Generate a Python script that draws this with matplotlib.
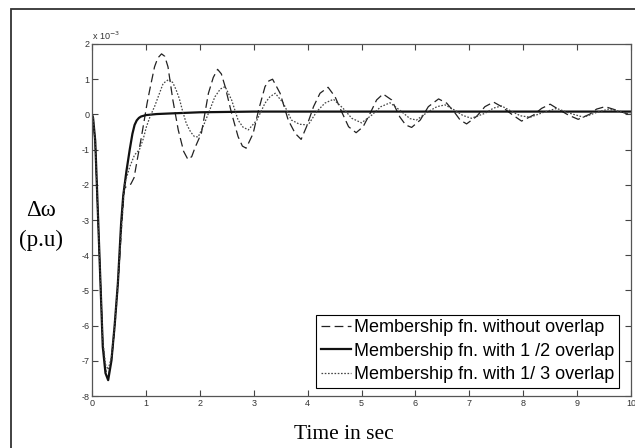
import matplotlib.pyplot as plt
from matplotlib.patches import Rectangle

plt.rcParams['axes.unicode_minus'] = False

# speed deviation (units of 1e-3 p.u.) against time in seconds
t_no_overlap = [0, 0.02, 0.06, 0.10, 0.20, 0.25, 0.30, 0.36, 0.42, 0.48, 0.54, 0.60, 0.66,
                0.72, 0.78, 0.85, 0.91, 0.97, 1.02, 1.07, 1.16, 1.22, 1.29, 1.35, 1.41, 1.50,
                1.60, 1.70, 1.78, 1.85, 1.91, 2.03, 2.16, 2.25, 2.33, 2.40, 2.47, 2.59, 2.71,
                2.79, 2.86, 2.99, 3.09, 3.21, 3.28, 3.35, 3.49, 3.64, 3.77, 3.88, 3.98, 4.11,
                4.23, 4.38, 4.51, 4.63, 4.76, 4.90, 5.03, 5.16, 5.28, 5.40, 5.56, 5.71, 5.82,
                5.93, 6.09, 6.24, 6.43, 6.58, 6.73, 6.83, 6.95, 7.14, 7.29, 7.45, 7.60, 7.79,
                7.97, 8.19, 8.34, 8.50, 8.68, 8.84, 9.02, 9.24, 9.36, 9.52, 9.73, 10.0]
dw_no_overlap = [0, -0.1, -0.8, -2.5, -6.5, -7.25, -7.45, -7.0, -6.1, -4.9, -3.4, -2.1, -2.02,
                 -1.98, -1.8, -1.2, -0.7, -0.16, 0.3, 0.69, 1.35, 1.6, 1.72, 1.65, 1.35, 0.41,
                 -0.44, -1.05, -1.28, -1.2, -0.95, -0.53, 0.6, 1.05, 1.28, 1.15, 0.79, 0.03, -0.63,
                 -0.9, -0.96, -0.54, 0.12, 0.79, 0.95, 1.0, 0.6, -0.16, -0.54, -0.71, -0.35, 0.22,
                 0.6, 0.77, 0.5, 0.08, -0.35, -0.52, -0.35, 0.03, 0.41, 0.58, 0.41, -0.07, -0.3,
                 -0.37, -0.16, 0.22, 0.44, 0.32, 0.05, -0.16, -0.27, -0.05, 0.22, 0.35, 0.22, 0.0,
                 -0.19, -0.02, 0.17, 0.29, 0.12, -0.02, -0.14, 0.01, 0.15, 0.22, 0.12, -0.02]

t_half = [0, 0.02, 0.06, 0.10, 0.15, 0.20, 0.25, 0.30, 0.36, 0.42, 0.48, 0.54, 0.58, 0.64,
          0.70, 0.75, 0.79, 0.83, 0.87, 0.91, 1.0, 1.2, 1.5, 2.0, 3.0, 4.0, 6.0, 8.0, 10.0]
dw_half = [0, -0.1, -0.75, -2.4, -4.5, -6.6, -7.35, -7.55, -7.0, -6.0, -4.8, -3.1, -2.3, -1.6,
           -1.0, -0.55, -0.3, -0.17, -0.1, -0.06, -0.02, 0.01, 0.03, 0.06, 0.08, 0.08, 0.08,
           0.08, 0.08]

t_third = [0, 0.02, 0.06, 0.10, 0.20, 0.25, 0.30, 0.36, 0.42, 0.48, 0.54, 0.60, 0.65, 0.70,
           0.79, 0.88, 0.95, 1.01, 1.08, 1.16, 1.24, 1.32, 1.43, 1.50, 1.56, 1.62, 1.68, 1.75,
           1.83, 1.90, 1.97, 2.06, 2.16, 2.28, 2.38, 2.47, 2.59, 2.71, 2.80, 2.90, 3.06, 3.21,
           3.30, 3.40, 3.55, 3.70, 3.85, 4.01, 4.17, 4.32, 4.48, 4.66, 4.82, 5.00, 5.19, 5.36,
           5.53, 5.71, 5.90, 6.02, 6.24, 6.40, 6.55, 6.73, 6.88, 7.04, 7.29, 7.45, 7.60, 7.79,
           7.95, 8.13, 8.38, 8.62, 8.87, 9.12, 9.35, 9.58, 9.80, 10.0]
dw_third = [0, -0.1, -0.8, -2.5, -6.4, -7.1, -7.25, -6.9, -6.0, -4.8, -3.3, -2.0, -1.75, -1.49,
            -1.15, -1.0, -0.7, -0.35, -0.05, 0.22, 0.55, 0.88, 1.0, 0.9, 0.7, 0.45, 0.1, -0.26,
            -0.5, -0.63, -0.64, -0.35, 0.03, 0.5, 0.72, 0.79, 0.41, -0.16, -0.36, -0.44, -0.16,
            0.32, 0.5, 0.6, 0.32, -0.16, -0.28, -0.3, 0.08, 0.32, 0.43, 0.17, -0.11, -0.24,
            -0.02, 0.22, 0.33, 0.12, -0.12, -0.16, 0.08, 0.22, 0.27, 0.12, -0.03, -0.11, 0.03,
            0.18, 0.24, 0.08, -0.04, -0.08, 0.06, 0.17, 0.03, -0.08, 0.05, 0.15, 0.08, 0.0]

labels = ['Membership fn. without overlap',
          'Membership fn. with 1 /2 overlap',
          'Membership fn. with 1/ 3 overlap']

fig = plt.figure(figsize=(6.35, 4.48), dpi=100)
ax = fig.add_axes([92 / 635, 52 / 448, 539 / 635, 352 / 448])

ax.plot(t_no_overlap, dw_no_overlap, color='#222222', lw=0.9, dashes=(7, 3.5),
        label=labels[0])
ax.plot(t_half, dw_half, color='#111111', lw=1.6, label=labels[1])
ax.plot(t_third, dw_third, color='#444444', lw=0.9, dashes=(1.3, 1.3),
        label=labels[2])

ax.set_xlim(0, 10)
ax.set_ylim(-8, 2)
ax.set_xticks(range(0, 11))
ax.set_yticks(range(-8, 3))
ax.tick_params(direction='in', top=True, right=True, length=4, width=0.8,
               labelsize=6.5, labelcolor='#333333', color='#444444', pad=2)
for lab in ax.get_xticklabels() + ax.get_yticklabels():
    lab.set_family('Liberation Sans')
for s in ax.spines.values():
    s.set_color('#555555')
    s.set_linewidth(0.9)

ax.text(0.0, 1.005, 'x 10$^{-3}$', transform=ax.transAxes, fontsize=6.5,
        family='Liberation Sans', color='#333333', va='bottom', ha='left')

leg = ax.legend(loc='lower right', bbox_to_anchor=(0.978, 0.0227), borderaxespad=0,
                fancybox=False, edgecolor='black', framealpha=1,
                prop={'family': 'Liberation Sans', 'size': 13},
                handlelength=1.67, handletextpad=0.17, borderpad=0.26,
                labelspacing=0.36)
leg.get_frame().set_linewidth(0.8)

fig.text(41 / 635, 1 - 211 / 448, '\u0394\u03c9', family='Liberation Serif',
         fontsize=16.5, ha='center', va='center')
fig.text(41 / 635, 1 - 240 / 448, '(p.u)', family='Liberation Serif',
         fontsize=16.5, ha='center', va='center')
fig.text(344 / 635, 1 - 434 / 448, 'Time in sec', family='Liberation Serif',
         fontsize=15.5, ha='center', va='center')

# frame around the whole figure (right and bottom edges fall outside)
fig.patches.append(Rectangle((11 / 635, -0.05), 1.0, 0.05 + (448 - 9) / 448,
                             transform=fig.transFigure, fill=False,
                             edgecolor='#333333', lw=1.3))

fig.savefig('out.png', dpi=100)
